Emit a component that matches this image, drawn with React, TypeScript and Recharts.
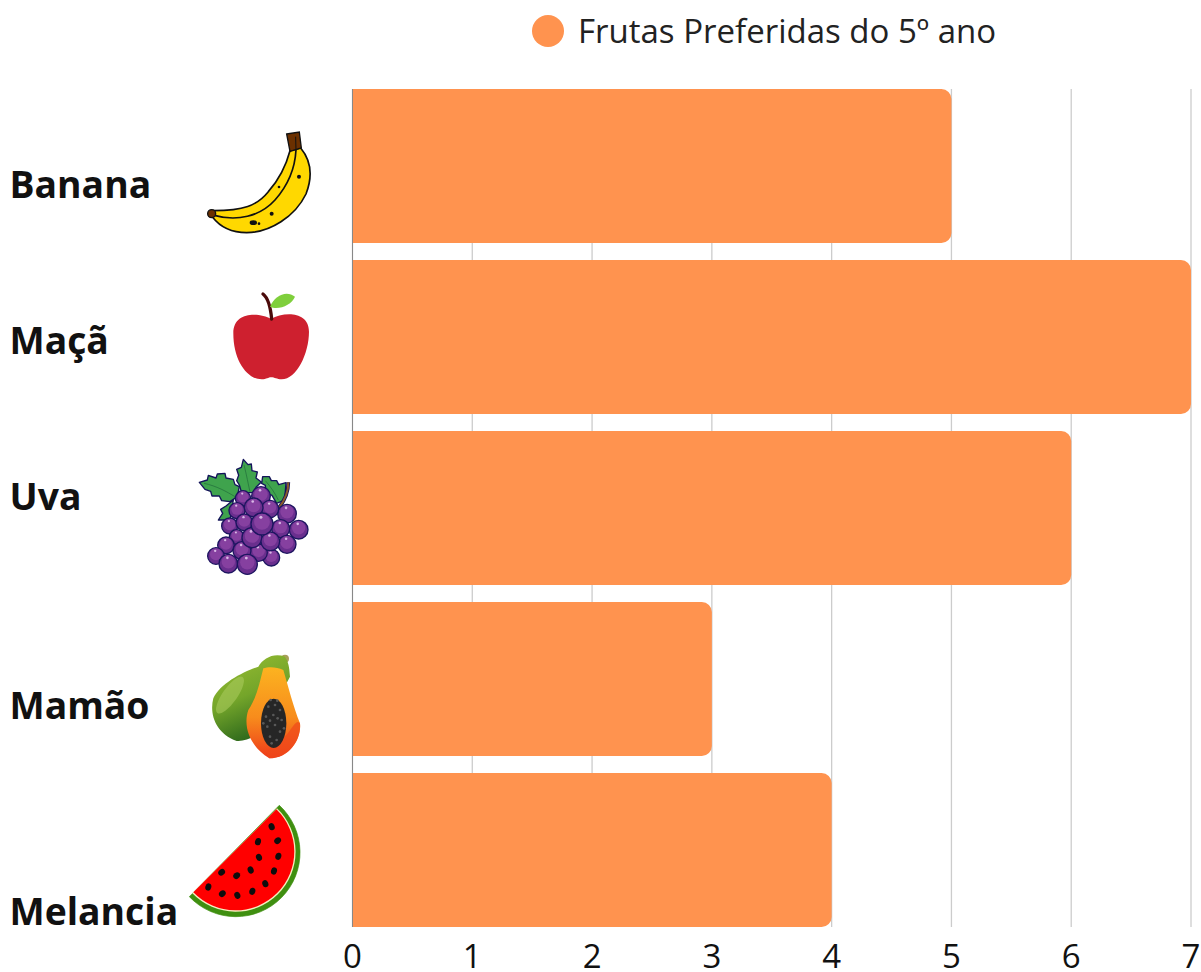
import { Bar, BarChart, CartesianGrid, Legend, XAxis, YAxis } from "recharts";

const fruits = ["Banana", "Maçã", "Uva", "Mamão", "Melancia"];
const votes = [5, 7, 6, 3, 4];
const xTicks = [0, 1, 2, 3, 4, 5, 6, 7];
const seriesName = "Frutas Preferidas do 5º ano";

const chartData = fruits.map((fruit, i) => ({ fruit, votes: votes[i] }));

const font = "'Open Sans', sans-serif";
const orange = "#ff934f";

// the labels sit a bit off the bar centres in the original
const labelShift: Record<string, number> = { Banana: 19, "Maçã": 4, Uva: -11, "Mamão": 27, Melancia: 62 };

// icons are drawn at 3x in their own coords, then scaled down
function Icon({ x, y, children }: { x: number; y: number; children: React.ReactNode }) {
  return <g transform={`translate(${x} ${y}) scale(0.3333)`}>{children}</g>;
}

function BananaIcon() {
  return (
    <Icon x={180} y={120}>
      <path
        d="M100 272 C190 272 230 258 265 215 C300 175 320 130 330 92 L362 84 C392 120 400 165 378 222 C345 290 270 338 200 338 C150 338 118 318 98 292 Z"
        fill="#ffd800"
        stroke="#111"
        strokeWidth={5}
      />
      <path d="M103 286 C170 305 240 290 285 240 C325 195 345 145 348 90" fill="none" stroke="#111" strokeWidth={5} />
      <path d="M320 42 L358 36 L364 84 L330 94 Z" fill="#6b3000" stroke="#111" strokeWidth={4} />
      <path d="M347 50 L348 90" stroke="#111" strokeWidth={3} />
      <circle cx={95} cy={281} r={12} fill="#6b3000" stroke="#111" strokeWidth={4} />
      <circle cx={357} cy={170} r={6} fill="#111" />
      <circle cx={297} cy={201} r={4} fill="#111" />
      <circle cx={275} cy={281} r={6} fill="#111" />
      <ellipse cx={220} cy={308} rx={11} ry={7} fill="#111" />
      <circle cx={237} cy={311} r={4} fill="#111" />
    </Icon>
  );
}

function AppleIcon() {
  return (
    <Icon x={180} y={120}>
      <path
        d="M273 597 C240 578 160 572 160 640 C160 720 200 778 245 778 C260 778 265 772 273 772 C285 772 290 778 305 778 C350 778 387 700 387 635 C387 572 310 575 273 597 Z"
        fill="#ce202f"
      />
      <path d="M249 522 C266 535 272 565 275 597" fill="none" stroke="#4a0a0a" strokeWidth={10} strokeLinecap="round" />
      <path d="M270 560 C285 525 320 510 345 530 C335 555 295 572 270 560 Z" fill="#7fcf3c" />
    </Icon>
  );
}

const grapeBalls = [
  [189, 145, 23], [243, 138, 28], [171, 182, 24], [321, 191, 28], [270, 177, 26], [221, 172, 28],
  [149, 228, 24], [193, 217, 25], [356, 239, 28], [302, 236, 27], [170, 261, 22], [321, 283, 27],
  [138, 286, 25], [274, 323, 25], [236, 308, 26], [186, 302, 27], [216, 263, 30], [271, 274, 28],
  [246, 222, 33], [108, 318, 25], [145, 341, 28], [202, 343, 30]
];

function GrapesIcon() {
  return (
    <Icon x={180} y={450}>
      <g fill="#3fa34d" stroke="#14145a" strokeWidth={4} strokeLinejoin="round">
        <path d="M58 97 L82 90 L85 76 L108 84 L112 72 L135 70 L138 84 L160 88 L165 104 L178 110 L172 140 L150 155 L125 152 L118 138 L96 138 L92 124 L75 118 Z" />
        <path d="M190 28 L204 44 L214 42 L216 62 L232 66 L228 84 L244 96 L228 112 L222 128 L185 128 L178 105 L170 92 L176 76 L170 58 L184 52 Z" />
        <path d="M248 80 L268 80 L274 92 L290 92 L296 104 L318 98 L314 150 L290 160 L276 136 L258 128 L256 106 L245 100 Z" />
        <path d="M115 210 L128 190 L122 178 L138 168 L160 150 L150 210 Z" />
      </g>
      <g fill="none" stroke="#1f6a3a" strokeWidth={2}>
        <path d="M72 100 C110 108 140 125 165 140" />
        <path d="M192 45 C200 75 205 105 210 125" />
        <path d="M256 92 C272 110 285 130 295 150" />
      </g>
      <path d="M325 97 C325 125 315 150 298 172" fill="none" stroke="#14145a" strokeWidth={11} />
      <path d="M325 97 C325 125 315 150 298 172" fill="none" stroke="#8b5a2b" strokeWidth={6} />
      {grapeBalls.map(([cx, cy, r], i) => (
        <g key={i}>
          <circle cx={cx} cy={cy} r={r} fill="#6a2f8e" stroke="#1d1560" strokeWidth={4} />
          <circle cx={cx} cy={cy - r * 0.2} r={r * 0.72} fill="#8640a0" />
          <circle cx={cx - r * 0.1} cy={cy - r * 0.62} r={r * 0.14} fill="#d9b8e6" />
        </g>
      ))}
    </Icon>
  );
}

const papayaSeeds = [
  [265, 770], [285, 765], [300, 780], [258, 800], [280, 795], [305, 810], [262, 830], [285, 825], [300, 845],
  [270, 860], [290, 870], [250, 820], [312, 835], [275, 880], [272, 750], [292, 752], [270, 812], [293, 805]
];

function PapayaIcon() {
  return (
    <Icon x={180} y={450}>
      <defs>
        <linearGradient id="papayaSkin" x1="0" y1="0" x2="0.4" y2="1">
          <stop offset="0%" stopColor="#9cc033" />
          <stop offset="55%" stopColor="#74a52a" />
          <stop offset="100%" stopColor="#2f6a1c" />
        </linearGradient>
        <linearGradient id="papayaFlesh" x1="0" y1="0" x2="0" y2="1">
          <stop offset="0%" stopColor="#fcb320" />
          <stop offset="55%" stopColor="#f78c1c" />
          <stop offset="100%" stopColor="#ee3a1a" />
        </linearGradient>
      </defs>
      <circle cx={315} cy={626} r={12} fill="#a8a05a" />
      <path
        d="M315 620 C280 608 250 625 235 650 C190 665 120 700 100 745 C88 790 105 850 170 873 C190 875 215 865 240 850 L330 680 C328 650 325 635 315 620 Z"
        fill="url(#papayaSkin)"
      />
      <ellipse cx={150} cy={735} rx={22} ry={66} fill="#a9c95c" opacity={0.6} transform="rotate(35 150 735)" />
      <path
        d="M250 655 C238 700 232 740 205 780 C188 830 210 890 268 925 C330 925 365 865 360 820 C340 770 325 710 310 660 C290 650 265 650 250 655 Z"
        fill="url(#papayaFlesh)"
      />
      <path d="M360 820 C345 800 330 860 290 880 C270 895 250 905 268 925 C330 925 365 865 360 820 Z" fill="#f0481a" opacity={0.7} />
      <ellipse cx={281} cy={820} rx={38} ry={74} fill="#262626" />
      {papayaSeeds.map(([cx, cy], i) => (
        <circle key={i} cx={cx} cy={cy} r={4} fill="#585858" />
      ))}
    </Icon>
  );
}

const melonSeeds = [
  [275, 110], [234, 155], [293, 152], [237, 202], [295, 199], [125, 247], [212, 240],
  [282, 243], [170, 257], [256, 281], [85, 291], [127, 311], [172, 316], [217, 304]
];

function MelonIcon() {
  return (
    <Icon x={180} y={790}>
      <path d="M298 46 A192.45 192.45 0 1 1 28 320 Z" fill="#3f8f10" stroke="#3f8f10" strokeWidth={2} />
      <path d="M291 55 A180 180 0 1 1 37 310 Z" fill="#f5efc0" />
      <path d="M289 58 A176.1 176.1 0 1 1 40 307 Z" fill="#ff0000" />
      {melonSeeds.map(([cx, cy], i) => (
        <ellipse key={i} cx={cx} cy={cy} rx={9} ry={11} fill="#0d0d0d" transform={`rotate(${35 * (i % 3) - 20} ${cx} ${cy})`} />
      ))}
    </Icon>
  );
}

const fruitIcons: Record<string, React.ReactNode> = {
  Banana: <BananaIcon />,
  "Maçã": <AppleIcon />,
  Uva: <GrapesIcon />,
  "Mamão": <PapayaIcon />,
  Melancia: <MelonIcon />
};

function FruitTick({ y, payload }: any) {
  return (
    <g>
      <text
        x={9.5}
        y={y + labelShift[payload.value]}
        dy="0.36em"
        textAnchor="start"
        fontFamily={font}
        fontSize={37.3}
        fontWeight={700}
        fill="#111"
      >
        {payload.value}
      </text>
      {fruitIcons[payload.value]}
    </g>
  );
}

export default function App() {
  return (
    <div style={{ position: "absolute", left: 0, top: 0, width: 1201, height: 972, background: "#fff" }}>
      <BarChart
        width={1201}
        height={972}
        data={chartData}
        layout="vertical"
        barCategoryGap={8.5}
        margin={{ top: 29, right: 10, bottom: 0, left: 0 }}
      >
        <CartesianGrid horizontal={false} stroke="#ccc" strokeWidth={1.3} />
        <XAxis
          type="number"
          domain={[0, 7]}
          ticks={xTicks}
          interval={0}
          height={45}
          axisLine={false}
          tickLine={false}
          tickMargin={12}
          tick={{ fill: "#111", fontSize: 33, fontFamily: font }}
        />
        <YAxis
          type="category"
          dataKey="fruit"
          width={352.5}
          padding={{ top: -8.5, bottom: -8.5 }}
          axisLine={{ stroke: "#888", strokeWidth: 1 }}
          tickLine={false}
          interval={0}
          tick={<FruitTick />}
        />
        <Legend
          verticalAlign="top"
          height={60}
          iconType="circle"
          iconSize={32}
          wrapperStyle={{ left: 532, top: 8, width: "auto", fontFamily: font }}
          formatter={(value: string) => (
            <span style={{ color: "#222", fontSize: 33, marginLeft: 10, verticalAlign: "middle" }}>{value}</span>
          )}
        />
        <Bar dataKey="votes" name={seriesName} fill={orange} radius={[0, 10, 10, 0]} isAnimationActive={false} />
      </BarChart>
    </div>
  );
}
